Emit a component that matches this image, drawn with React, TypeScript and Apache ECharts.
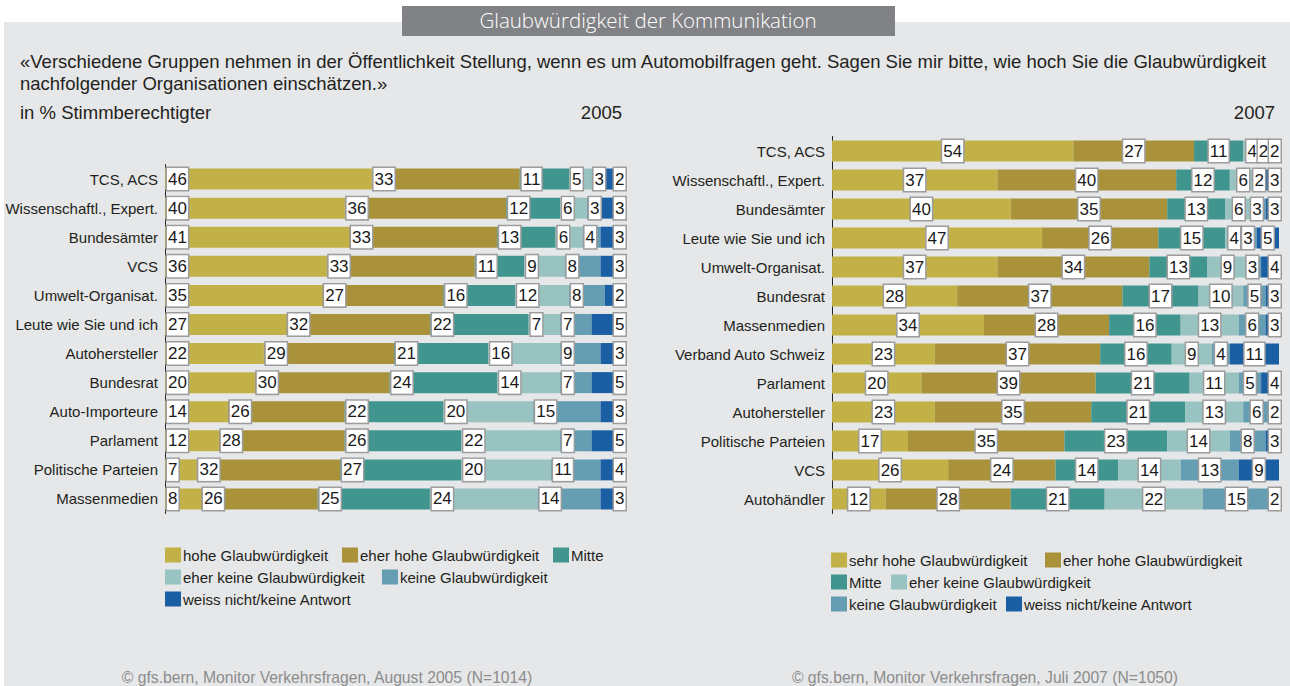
import React, { useEffect, useRef } from "react";
import * as echarts from "echarts";

// ---------- data ----------
const categories2005 = [
  "TCS, ACS",
  "Wissenschaftl., Expert.",
  "Bundesämter",
  "VCS",
  "Umwelt-Organisat.",
  "Leute wie Sie und ich",
  "Autohersteller",
  "Bundesrat",
  "Auto-Importeure",
  "Parlament",
  "Politische Parteien",
  "Massenmedien",
];
const hohe2005 = [46, 40, 41, 36, 35, 27, 22, 20, 14, 12, 7, 8];
const eherHohe2005 = [33, 36, 33, 33, 27, 32, 29, 30, 26, 28, 32, 26];
const mitte2005 = [11, 12, 13, 11, 16, 22, 21, 24, 22, 26, 27, 25];
const eherKeine2005 = [5, 6, 6, 9, 12, 7, 16, 14, 20, 22, 20, 24];
const keine2005 = [3, 3, 4, 8, 8, 7, 9, 7, 15, 7, 11, 14];
const weissNicht2005 = [2, 3, 3, 3, 2, 5, 3, 5, 3, 5, 4, 3];

const categories2007 = [
  "TCS, ACS",
  "Wissenschaftl., Expert.",
  "Bundesämter",
  "Leute wie Sie und ich",
  "Umwelt-Organisat.",
  "Bundesrat",
  "Massenmedien",
  "Verband Auto Schweiz",
  "Parlament",
  "Autohersteller",
  "Politische Parteien",
  "VCS",
  "Autohändler",
];
const sehrHohe2007 = [54, 37, 40, 47, 37, 28, 34, 23, 20, 23, 17, 26, 12];
const eherHohe2007 = [27, 40, 35, 26, 34, 37, 28, 37, 39, 35, 35, 24, 28];
const mitte2007 = [11, 12, 13, 15, 13, 17, 16, 16, 21, 21, 23, 14, 21];
const eherKeine2007 = [4, 6, 6, 4, 9, 10, 13, 9, 11, 13, 14, 14, 22];
const keine2007 = [2, 2, 3, 3, 3, 5, 6, 4, 5, 6, 8, 13, 15];
const weissNicht2007 = [2, 3, 3, 5, 4, 3, 3, 11, 4, 2, 3, 9, 2];

const names2005 = [
  "hohe Glaubwürdigkeit",
  "eher hohe Glaubwürdigkeit",
  "Mitte",
  "eher keine Glaubwürdigkeit",
  "keine Glaubwürdigkeit",
  "weiss nicht/keine Antwort",
];
const names2007 = [
  "sehr hohe Glaubwürdigkeit",
  "eher hohe Glaubwürdigkeit",
  "Mitte",
  "eher keine Glaubwürdigkeit",
  "keine Glaubwürdigkeit",
  "weiss nicht/keine Antwort",
];

const titleText = "Glaubwürdigkeit der Kommunikation";
const questionLine1 =
  "«Verschiedene Gruppen nehmen in der Öffentlichkeit Stellung, wenn es um Automobilfragen geht. Sagen Sie mir bitte, wie hoch Sie die Glaubwürdigkeit";
const questionLine2 = "nachfolgender Organisationen einschätzen.»";
const unitText = "in % Stimmberechtigter";
const year1 = "2005";
const year2 = "2007";
const source1 = "© gfs.bern, Monitor Verkehrsfragen, August 2005 (N=1014)";
const source2 = "© gfs.bern, Monitor Verkehrsfragen, Juli 2007 (N=1050)";

// ---------- styles ----------
const COLORS = ["#c2b146", "#aa923b", "#40968f", "#98c3c0", "#659db3", "#1a5ea4"];
const FONT = "'Liberation Sans', Arial, Helvetica, sans-serif";
const TEXT = "#231f20";

const boxLabel = {
  show: true,
  color: "#1a1a1a",
  fontSize: 17,
  fontFamily: FONT,
  backgroundColor: "#ffffff",
  borderColor: "#9c9c9c",
  borderWidth: 1.5,
  padding: [2, 1, 1, 1],
  lineHeight: 19,
};

export default function App() {
  const ref = useRef<HTMLDivElement>(null);

  useEffect(() => {
    if (!ref.current) return;
    const chart = echarts.init(ref.current, undefined, { renderer: "svg" });

    const data2005 = [hohe2005, eherHohe2005, mitte2005, eherKeine2005, keine2005, weissNicht2005];
    const data2007 = [sehrHohe2007, eherHohe2007, mitte2007, eherKeine2007, keine2007, weissNicht2007];

    const series: any[] = [];
    data2005.forEach((d, i) => {
      const last = i === data2005.length - 1;
      series.push({
        type: "bar",
        name: names2005[i],
        stack: "y2005",
        xAxisIndex: 0,
        yAxisIndex: 0,
        data: d,
        barWidth: 21,
        itemStyle: { color: COLORS[i] },
        label: {
          ...boxLabel,
          position: last ? "right" : "insideLeft",
          distance: last ? 0 : 2,
        },
      });
    });
    data2007.forEach((d, i) => {
      const last = i === data2007.length - 1;
      const s: any = {
        type: "bar",
        name: names2007[i],
        stack: "y2007",
        xAxisIndex: 1,
        yAxisIndex: 1,
        data: d,
        barWidth: 21,
        itemStyle: { color: COLORS[i] },
        label: { ...boxLabel, position: "inside" },
      };
      if (last) {
        // small final segments: keep the label box flush with the bar end
        s.labelLayout = (p: any) => {
          if (p.rect.width < p.labelRect.width + 4) {
            const wantedLeft = p.rect.x + p.rect.width - p.labelRect.width + 3;
            return { dx: wantedLeft - p.labelRect.x };
          }
          return {};
        };
      }
      if (i === 4) {
        s.labelLayout = (p: any) => {
          if (p.rect.width < p.labelRect.width) {
            return { dx: -2 };
          }
          return {};
        };
      }
      series.push(s);
    });

    const yAxisCommon = {
      type: "category" as const,
      inverse: true,
      axisLine: { show: true, lineStyle: { color: "#222", width: 1 } },
      axisTick: { show: false },
      axisLabel: { color: TEXT, fontSize: 15, fontFamily: FONT, margin: 7 },
    };
    const xAxisCommon = {
      type: "value" as const,
      min: 0,
      max: 100,
      show: false,
    };

    const legendItems = (names: string[], layout: [number, number, number][]) => {
      const els: any[] = [];
      layout.forEach(([idx, x, y]) => {
        els.push({
          type: "rect",
          shape: { x, y: y - 7.5, width: 16, height: 15 },
          style: { fill: COLORS[idx] },
        });
        els.push({
          type: "text",
          x: x + 18,
          y,
          style: {
            text: names[idx],
            fill: TEXT,
            font: `15px ${FONT}`,
            verticalAlign: "middle",
          },
        });
      });
      return els;
    };

    const graphic: any[] = [
      { type: "rect", shape: { x: 4, y: 22, width: 1290, height: 670 }, style: { fill: "#e6e7e8" }, z: -10 },
      { type: "rect", shape: { x: 402, y: 6, width: 493, height: 30 }, style: { fill: "#818285" } },
      {
        type: "text",
        x: 648,
        y: 20,
        style: {
          text: titleText,
          fill: "#ffffff",
          font: `300 20.5px 'Open Sans', ${FONT}`,
          align: "center",
          verticalAlign: "middle",
        },
      },
      { type: "text", x: 20, y: 61, style: { text: questionLine1, fill: TEXT, font: `18.5px ${FONT}`, verticalAlign: "middle" } },
      { type: "text", x: 20, y: 83, style: { text: questionLine2, fill: TEXT, font: `18.5px ${FONT}`, verticalAlign: "middle" } },
      { type: "text", x: 20, y: 112, style: { text: unitText, fill: TEXT, font: `18.5px ${FONT}`, verticalAlign: "middle" } },
      { type: "text", x: 622, y: 112, style: { text: year1, fill: TEXT, font: `18.5px ${FONT}`, align: "right", verticalAlign: "middle" } },
      { type: "text", x: 1275, y: 112, style: { text: year2, fill: TEXT, font: `18.5px ${FONT}`, align: "right", verticalAlign: "middle" } },
      { type: "text", x: 327, y: 677, style: { text: source1, fill: "#8c8c8c", font: `15.7px ${FONT}`, align: "center", verticalAlign: "middle" } },
      { type: "text", x: 985, y: 677, style: { text: source2, fill: "#8c8c8c", font: `15.7px ${FONT}`, align: "center", verticalAlign: "middle" } },
      ...legendItems(names2005, [
        [0, 165, 555],
        [1, 342, 555],
        [2, 553, 555],
        [3, 165, 577],
        [4, 382, 577],
        [5, 165, 599],
      ]),
      ...legendItems(names2007, [
        [0, 831, 560],
        [1, 1045, 560],
        [2, 831, 582],
        [3, 891, 582],
        [4, 831, 604],
        [5, 1006, 604],
      ]),
    ];

    chart.setOption({
      animation: false,
      backgroundColor: "#ffffff",
      grid: [
        { left: 165, top: 164.5, width: 449, height: 349 },
        { left: 832, top: 136.5, width: 447, height: 377 },
      ],
      xAxis: [
        { ...xAxisCommon, gridIndex: 0 },
        { ...xAxisCommon, gridIndex: 1 },
      ],
      yAxis: [
        { ...yAxisCommon, gridIndex: 0, data: categories2005 },
        { ...yAxisCommon, gridIndex: 1, data: categories2007 },
      ],
      graphic,
      series,
    });

    return () => chart.dispose();
  }, []);

  return (
    <div
      ref={ref}
      style={{ position: "absolute", left: 0, top: 0, width: 1290, height: 686 }}
    />
  );
}
